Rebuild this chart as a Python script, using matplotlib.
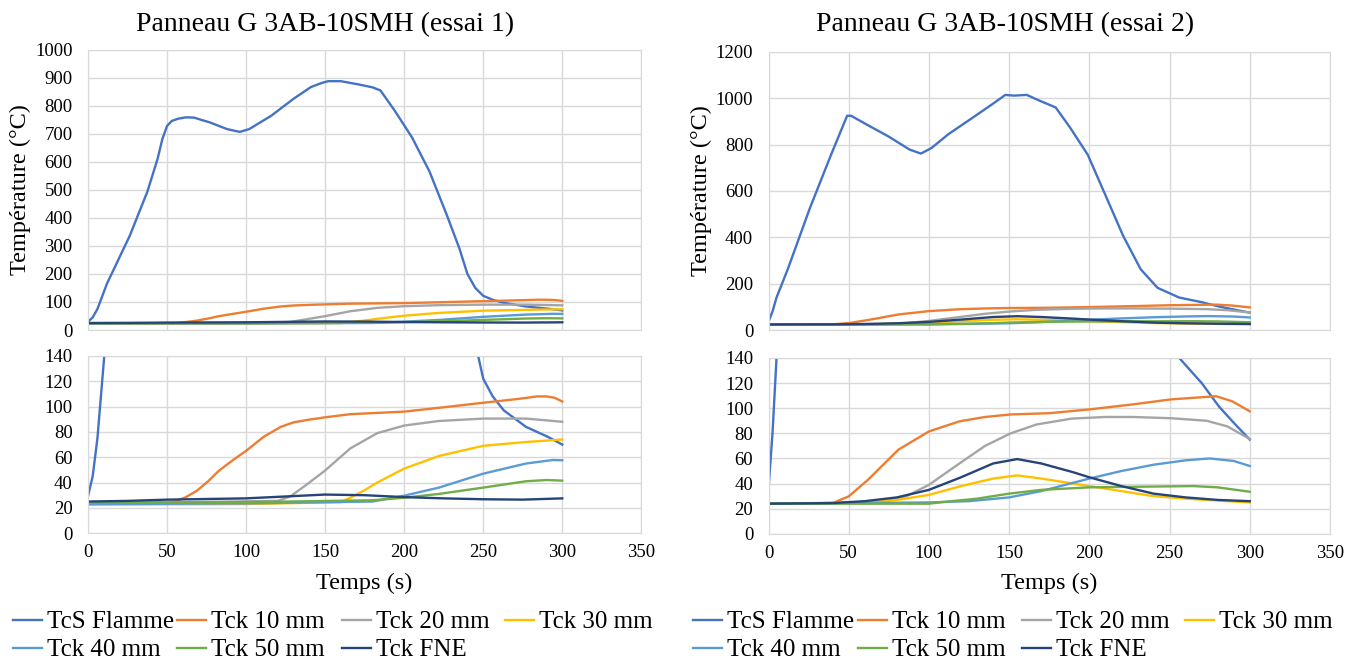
import matplotlib.pyplot as plt
import numpy as np

plt.rcParams['font.family'] = ['Liberation Serif', 'DejaVu Serif']

# ---- essai 1 ----
t1_flame = [0, 3, 6, 9, 12, 20, 26.5, 37.6, 44, 47, 50, 53, 57, 62, 67, 77, 88, 96, 102, 116, 130, 141, 148, 152,
            160, 171.5, 180, 185, 194, 205, 216, 227, 235, 240, 245, 250, 256, 263, 277, 291, 300]
T1_flame = [29, 45, 75, 120, 165, 260, 337, 494, 610, 680, 728, 746, 754, 759, 758, 741, 717, 707, 717, 765, 825,
            867, 882, 888, 888, 876, 866, 855, 783, 687, 566, 410, 290, 200, 150, 122, 108, 97, 84, 76, 70]
t1_10 = [0, 30, 55, 62, 69, 76, 83, 92, 100, 111, 122, 130, 139, 150, 166, 200, 222, 250, 272, 284, 290, 295, 300]
T1_10 = [23, 23.5, 25, 28.5, 33.6, 41, 49.5, 58, 65, 76, 84, 87.5, 89.5, 91.5, 94, 96, 99, 103, 106, 108, 108,
         107, 104]
t1_20 = [0, 60, 120, 128, 139, 150, 166, 183, 200, 222, 250, 277, 300]
T1_20 = [24, 24.5, 25.5, 29, 39, 49.5, 67, 79, 85, 88.6, 90.5, 90.5, 88]
t1_30 = [0, 100, 160, 166, 175, 183, 200, 222, 250, 277, 300]
T1_30 = [22.5, 23, 24.5, 28, 34, 40, 51, 61, 69, 72, 74]
t1_40 = [0, 100, 180, 200, 222, 250, 277, 294, 300]
T1_40 = [23, 23.5, 25, 29.6, 36, 47, 55, 57.8, 57.6]
t1_50 = [0, 100, 180, 200, 222, 250, 277, 290, 300]
T1_50 = [24, 24.5, 26, 28, 31, 36, 41, 42, 41.5]
t1_fne = [0, 25, 50, 100, 125, 150, 175, 200, 225, 250, 275, 300]
T1_fne = [25, 25.5, 26.5, 27.5, 29, 30.5, 30, 28.5, 27.5, 26.8, 26.5, 27.5]

# ---- essai 2 ----
t2_flame = [0, 2.5, 5, 12, 25.7, 39, 49, 51.5, 61, 74.5, 88, 95, 101.6, 112, 129, 139.5, 147.6, 153, 161,
            169, 179, 188, 199, 210, 221, 232, 242.5, 256, 270, 281, 291, 300]
T2_flame = [36, 80, 140, 262, 524, 756, 924, 924, 887, 836, 778, 761, 785, 844, 924, 974, 1014, 1011, 1014,
            989, 960, 873, 756, 582, 407, 262, 182, 140, 120, 101, 87, 75]
t2_10 = [0, 40, 50, 62, 81, 100, 119, 135, 151, 175, 200, 227, 251, 270, 279, 289, 300]
T2_10 = [24, 24.5, 29.8, 43, 67, 81.5, 89.5, 93, 95, 96, 99, 103, 107, 108.7, 109.5, 105.5, 97.5]
t2_20 = [0, 70, 86, 100, 119, 135, 151, 167, 189, 210, 227, 251, 273, 286, 300]
T2_20 = [24, 25, 30, 39, 56, 70, 80, 87, 91.7, 93, 93, 92, 90, 85.5, 75.5]
t2_30 = [0, 60, 80, 100, 120, 140, 155, 170, 190, 200, 220, 240, 260, 280, 300]
T2_30 = [24, 25, 27, 31, 38, 44, 46.5, 44, 40, 38, 34, 30, 28, 26.5, 25]
t2_40 = [0, 100, 125, 150, 170, 185, 200, 220, 240, 260, 275, 290, 300]
T2_40 = [24, 25, 26, 29, 34, 39, 44, 50, 55, 58.5, 60, 58, 54]
t2_50 = [0, 100, 110, 130, 150, 170, 200, 230, 265, 280, 300]
T2_50 = [24, 24, 25.5, 28, 32, 35, 37, 37.5, 38, 37, 33.5]
t2_fne = [0, 40, 60, 80, 100, 120, 140, 155, 170, 190, 200, 220, 240, 260, 280, 300]
T2_fne = [24, 24.5, 26, 29, 35, 45, 56, 59.5, 56, 49, 45, 38, 32, 29, 27, 26]

labels = ['TcS Flamme', 'Tck 10 mm', 'Tck 20 mm', 'Tck 30 mm', 'Tck 40 mm', 'Tck 50 mm', 'Tck FNE']
colors = ['#4472C4', '#ED7D31', '#A5A5A5', '#FFC000', '#5B9BD5', '#70AD47', '#264478']

essai1 = [(t1_flame, T1_flame), (t1_10, T1_10), (t1_20, T1_20), (t1_30, T1_30),
          (t1_40, T1_40), (t1_50, T1_50), (t1_fne, T1_fne)]
essai2 = [(t2_flame, T2_flame), (t2_10, T2_10), (t2_20, T2_20), (t2_30, T2_30),
          (t2_40, T2_40), (t2_50, T2_50), (t2_fne, T2_fne)]

W, H = 1353, 664
fig = plt.figure(figsize=(W / 100, H / 100), dpi=100)

panels = [
    dict(data=essai1, title='Panneau G 3AB-10SMH (essai 1)', tx=0.240, ymax=1000, ystep=100,
         top=[0.065, 0.503, 0.409, 0.422], bot=[0.065, 0.197, 0.409, 0.267],
         leg_x=[13, 177, 342, 505]),
    dict(data=essai2, title='Panneau G 3AB-10SMH (essai 2)', tx=0.743, ymax=1200, ystep=200,
         top=[0.568, 0.503, 0.415, 0.419], bot=[0.568, 0.196, 0.415, 0.265],
         leg_x=[693, 858, 1022, 1185]),
]

grid_c = '#D9D9D9'


def style(ax):
    ax.set_xlim(0, 350)
    ax.set_xticks(np.arange(0, 351, 50))
    ax.grid(True, color=grid_c, linewidth=1)
    ax.set_axisbelow(True)
    for s in ax.spines.values():
        s.set_color(grid_c)
    ax.tick_params(length=0, labelsize=13.5)
    ax.tick_params(axis='y', pad=11)
    ax.tick_params(axis='x', pad=8)


# legend slots: row-major like Excel, 4 per row
rows_y = [1 - 622 / H, 1 - 650 / H]

for p in panels:
    ax1 = fig.add_axes(p['top'])
    ax2 = fig.add_axes(p['bot'])
    handles = []
    for (t, T), c, lab in zip(p['data'], colors, labels):
        h, = ax1.plot(t, T, color=c, lw=1.7, label=lab)
        ax2.plot(t, T, color=c, lw=1.7)
        handles.append(h)
    style(ax1)
    style(ax2)
    ax1.set_ylim(0, p['ymax'])
    ax1.set_yticks(np.arange(0, p['ymax'] + 1, p['ystep']))
    ax1.set_xticklabels([])
    ax2.set_ylim(0, 140)
    ax2.set_yticks(np.arange(0, 141, 20))
    ax1.set_ylabel('Température (°C)', fontsize=17.5, labelpad=3)
    ax2.set_xlabel('Temps (s)', fontsize=17.5, labelpad=8)
    fig.text(p['tx'], 0.963, p['title'], ha='center', va='center', fontsize=20)

    for i, (h, lab) in enumerate(zip(handles, labels)):
        x = p['leg_x'][i % 4] / W
        y = rows_y[i // 4]
        fig.legend([h], [lab], loc='center left', bbox_to_anchor=(x, y), frameon=False,
                   fontsize=18, handlelength=1.15, handletextpad=0.2,
                   borderpad=0, borderaxespad=0)

fig.savefig('out.png', dpi=100)
